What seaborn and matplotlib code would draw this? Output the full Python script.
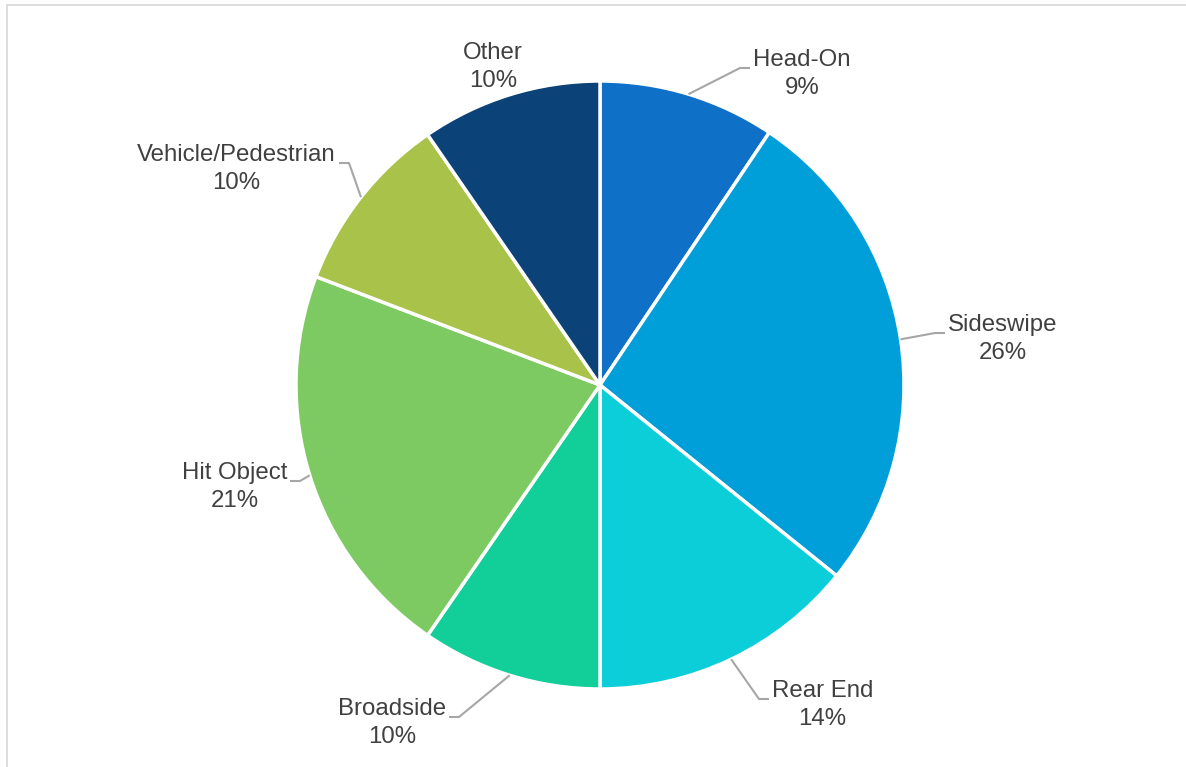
import numpy as np
import matplotlib
matplotlib.use("Agg")
import matplotlib.pyplot as plt
import seaborn as sns
from matplotlib.patches import Rectangle

# collision types and their share of all collisions (%)
categories = ["Head-On", "Sideswipe", "Rear End", "Broadside",
              "Hit Object", "Vehicle/Pedestrian", "Other"]
shares = [9.4, 26.4, 14.2, 9.6, 21.2, 9.6, 9.6]
colors = ["#0E70C6", "#009FD9", "#0BCED8", "#12CF9A",
          "#7DCA63", "#A8C24A", "#0B4277"]

# label layout (pixels from top-left), kept apart from the data
label_xy = [(753, 74), (948, 339), (772, 705), (446, 723),
            (287, 487), (336, 169), (493, 67)]
label_ha = ["left", "left", "left", "right", "right", "right", "center"]

W, H = 1186, 767
cx, cy, R = 600, H - 385, 304

sns.set_theme(style="white")
plt.rcParams["font.family"] = ["Liberation Sans", "DejaVu Sans"]

fig = plt.figure(figsize=(W / 100, H / 100), dpi=100)
ax = fig.add_axes([0, 0, 1, 1])

ax.pie(shares, colors=colors, startangle=90, counterclock=False,
       radius=R, center=(cx, cy),
       wedgeprops=dict(edgecolor="white", linewidth=2.5))

ax.set_xlim(0, W)
ax.set_ylim(0, H)
ax.set_aspect("equal")
ax.axis("off")

# outer chart frame
ax.add_patch(Rectangle((7, -20), W + 50, H - 5 + 20, fill=False,
                       edgecolor="#D9D9D9", linewidth=1.3))

total = sum(shares)
cum = np.cumsum([0] + shares[:-1])
for name, v, c0, (px, py), ha in zip(categories, shares, cum, label_xy, label_ha):
    theta = np.deg2rad((c0 + v / 2) / total * 360)
    ex, ey = cx + R * np.sin(theta), cy + R * np.cos(theta)
    ty = H - py
    ax.text(px, ty, f"{name}\n{round(v)}%", ha=ha, va="center",
            multialignment="center", fontsize=17.3, color="#404040",
            linespacing=1.32)
    if ha == "center":
        continue
    sgn = 1 if ha == "left" else -1
    end_x = px - sgn * 3
    elbow_x = end_x - sgn * 10
    ly = ty + 6
    ax.plot([ex, elbow_x, end_x], [ey, ly, ly], color="#A6A6A6",
            linewidth=1.5, solid_capstyle="butt")

fig.savefig("out.png", dpi=100)
